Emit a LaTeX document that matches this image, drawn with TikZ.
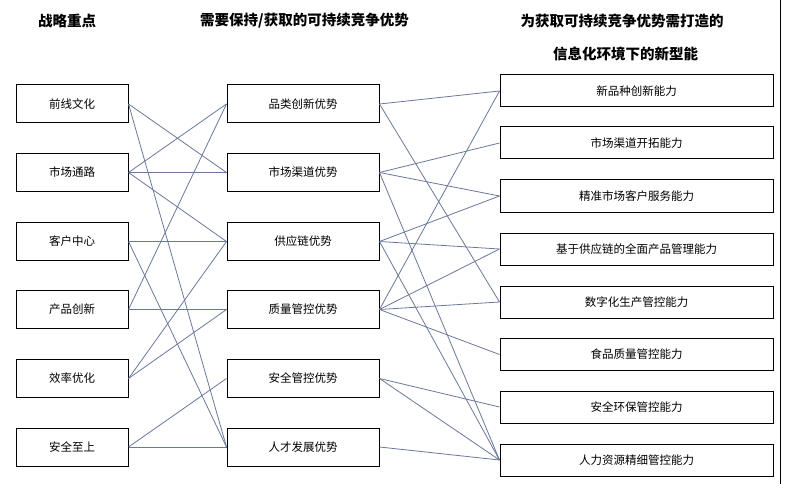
\documentclass[tikz,border=0pt]{standalone}
\usepackage{fontspec}
\setmainfont{Noto Sans CJK SC}
\definecolor{linkc}{RGB}{105,120,155}
\begin{document}
\begin{tikzpicture}[x=1pt,y=-1pt,
  boxs/.style={draw=black,line width=1pt,inner sep=0pt,font=\fontsize{11.5}{12}\selectfont},
  lbox/.style={boxs,minimum width=112pt,minimum height=38pt},
  mbox/.style={boxs,minimum width=152pt,minimum height=38pt},
  rbox/.style={boxs,minimum width=273pt,minimum height=32pt},
  head/.style={font=\fontsize{14.5}{15}\selectfont\bfseries,inner sep=0pt},
  link/.style={draw=linkc,line width=0.8pt}]
\useasboundingbox (0,0) rectangle (792,497);
\fill[white] (0,0) rectangle (792,497);
% headers
\node[head] (h1) at (67,21) {战略重点};
\node[head] (h2) at (304.5,21) {需要保持/获取的可持续竞争优势};
\node[head] (h3) at (622,21) {为获取可持续竞争优势需打造的};
\node[head] (h4) at (625.5,54) {信息化环境下的新型能};
% left column
\node[lbox] (L1) at (72,104) {前线文化};
\node[lbox] (L2) at (72,172.5) {市场通路};
\node[lbox] (L3) at (72,241.5) {客户中心};
\node[lbox] (L4) at (72,309.5) {产品创新};
\node[lbox] (L5) at (72,378.5) {效率优化};
\node[lbox] (L6) at (72,447) {安全至上};
% middle column
\node[mbox] (M1) at (303,104) {品类创新优势};
\node[mbox] (M2) at (303,172.5) {市场渠道优势};
\node[mbox] (M3) at (303,241.5) {供应链优势};
\node[mbox] (M4) at (303,309.5) {质量管控优势};
\node[mbox] (M5) at (303,378.5) {安全管控优势};
\node[mbox] (M6) at (303,447) {人才发展优势};
% right column
\node[rbox] (R1) at (636.5,91) {新品种创新能力};
\node[rbox] (R2) at (636.5,143) {市场渠道开拓能力};
\node[rbox] (R3) at (636.5,196) {精准市场客户服务能力};
\node[rbox] (R4) at (636.5,249) {基于供应链的全面产品管理能力};
\node[rbox] (R5) at (636.5,302) {数字化生产管控能力};
\node[rbox] (R6) at (636.5,354.5) {食品质量管控能力};
\node[rbox] (R7) at (636.5,407) {安全环保管控能力};
\node[rbox] (R8) at (636.5,460) {人力资源精细管控能力};
% left -> middle
\foreach \a/\b in {L1/M2,L1/M6,L2/M1,L2/M2,L2/M3,L3/M3,L3/M6,L4/M1,L4/M4,L5/M3,L5/M4,L6/M5,L6/M6}
  \draw[link] (\a.east) -- (\b.west);
% middle -> right
\foreach \a/\b in {M1/R1,M1/R5,M2/R2,M2/R3,M2/R8,M3/R3,M3/R4,M3/R8,M4/R1,M4/R4,M4/R5,M4/R6,M5/R7,M5/R8,M6/R8}
  \draw[link] (\a.east) -- (\b.west);
% right border line
\coordinate (e1) at (780.5,0);
\coordinate (e2) at (780.5,484);
\draw[black,line width=1.2pt] (e1) -- (e2);
\end{tikzpicture}
\end{document}
